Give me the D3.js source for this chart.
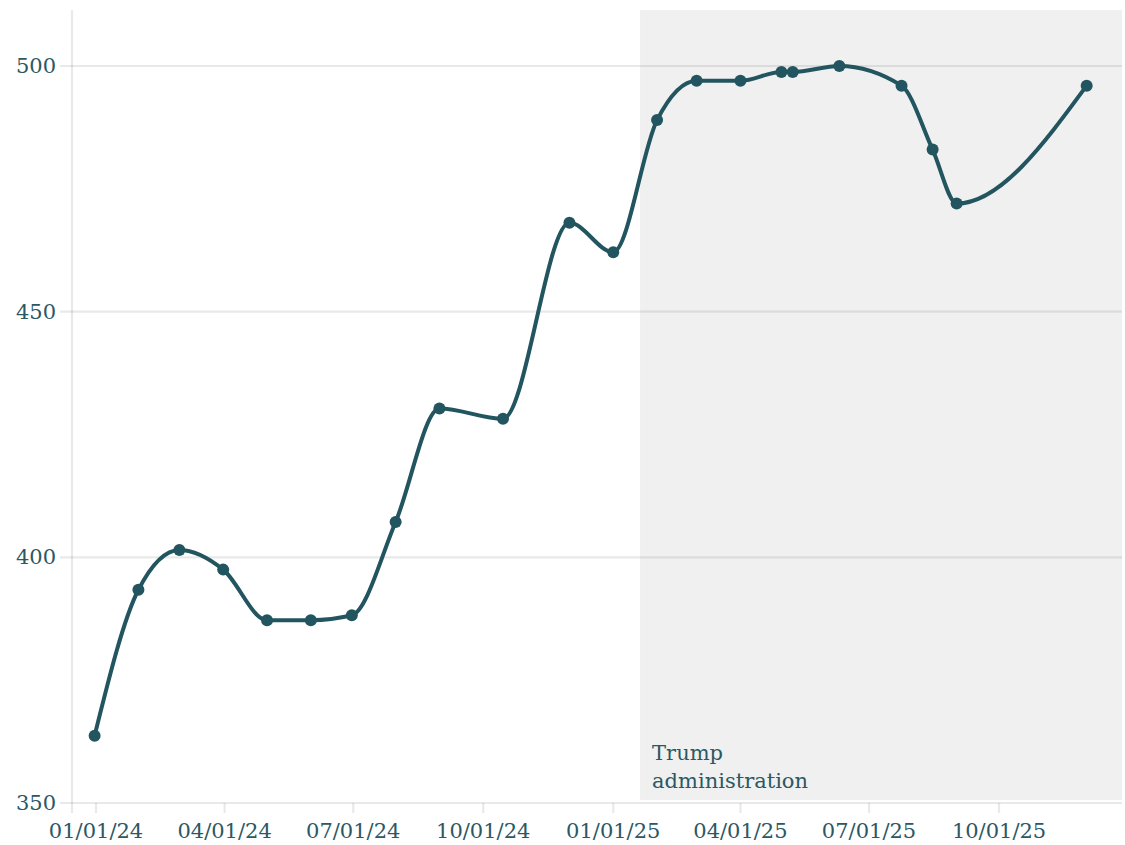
<!DOCTYPE html>
<html>
<head>
<meta charset="utf-8">
<title>Line chart</title>
<script src="https://d3js.org/d3.v7.min.js"></script>
<style>
    html, body { margin: 0; padding: 0; background: #fff; }
    svg { display: block; font-family: "DejaVu Serif", serif; }
    .tick-label { fill: #2b5864; font-size: 21px; }
</style>
</head>
<body>
<svg id="chart" width="1125" height="845"></svg>
<script>
    const dates = ['2023-12-31', '2024-01-31', '2024-02-29', '2024-03-31', '2024-05-01', '2024-06-01',
        '2024-06-30', '2024-07-31', '2024-08-31', '2024-10-15', '2024-12-01', '2025-01-01',
        '2025-02-01', '2025-03-01', '2025-04-01', '2025-04-30', '2025-05-08', '2025-06-10',
        '2025-07-24', '2025-08-15', '2025-09-01', '2025-12-02'];
    const values = [363.7, 393.4, 401.5, 397.5, 387.2, 387.2, 388.2, 407.2, 430.3, 428.2, 468.1, 462.1,
        489, 497, 497, 498.8, 498.8, 500, 496, 483, 472, 496];
    const xTicks = ['2024-01-01', '2024-04-01', '2024-07-01', '2024-10-01',
        '2025-01-01', '2025-04-01', '2025-07-01', '2025-10-01'];
    const yTicks = [350, 400, 450, 500];
    const shadeStart = '2025-01-20';
    const shadeLabel = ['Trump', 'administration'];

    const parse = d3.timeParse('%Y-%m-%d');
    const fmt = d3.timeFormat('%m/%d/%y');
    const data = dates.map((d, i) => ({ date: parse(d), value: values[i] }));

    const mLeft = 72, mRight = 1122, mTop = 10, mBottom = 803;
    const ink = '#22555f';
    const gridColor = 'rgba(0,0,0,0.085)';

    const x = d3.scaleTime()
        .domain([parse('2023-12-15'), parse('2025-12-27')])
        .range([mLeft, mRight]);
    const y = d3.scaleLinear()
        .domain([350, 511.4])
        .range([mBottom, mTop]);

    const svg = d3.select('#chart');

    // shaded administration period
    svg.append('rect')
        .attr('x', x(parse(shadeStart)))
        .attr('y', mTop)
        .attr('width', mRight - x(parse(shadeStart)))
        .attr('height', y(350) - mTop - 3)
        .attr('fill', '#f0f0f0');

    // horizontal grid
    svg.append('g')
        .selectAll('line')
        .data(yTicks)
        .join('line')
        .attr('x1', mLeft - 12)
        .attr('x2', mRight)
        .attr('y1', d => y(d))
        .attr('y2', d => y(d))
        .attr('stroke', gridColor)
        .attr('stroke-width', 2.2);

    // y axis line
    svg.append('line')
        .attr('x1', mLeft).attr('x2', mLeft)
        .attr('y1', mTop).attr('y2', mBottom + 10)
        .attr('stroke', gridColor)
        .attr('stroke-width', 2.2);

    // x ticks
    const xt = xTicks.map(parse);
    svg.append('g')
        .selectAll('line')
        .data(xt)
        .join('line')
        .attr('x1', d => x(d)).attr('x2', d => x(d))
        .attr('y1', mBottom).attr('y2', mBottom + 10)
        .attr('stroke', gridColor)
        .attr('stroke-width', 2.2);

    svg.append('g')
        .selectAll('text')
        .data(xt)
        .join('text')
        .attr('class', 'tick-label')
        .attr('x', d => x(d))
        .attr('y', 838)
        .attr('text-anchor', 'middle')
        .text(d => fmt(d));

    svg.append('g')
        .selectAll('text')
        .data(yTicks)
        .join('text')
        .attr('class', 'tick-label')
        .attr('x', 56)
        .attr('y', d => y(d) + 7)
        .attr('text-anchor', 'end')
        .text(d => d);

    // annotation
    svg.append('text')
        .attr('fill', '#2b5864')
        .attr('font-size', 21)
        .selectAll('tspan')
        .data(shadeLabel)
        .join('tspan')
        .attr('x', x(parse(shadeStart)) + 12)
        .attr('y', (d, i) => 760 + i * 28)
        .text(d => d);

    // line + points
    const line = d3.line()
        .x(d => x(d.date))
        .y(d => y(d.value))
        .curve(d3.curveMonotoneX);

    svg.append('path')
        .datum(data)
        .attr('d', line)
        .attr('fill', 'none')
        .attr('stroke', ink)
        .attr('stroke-width', 4);

    svg.append('g')
        .selectAll('circle')
        .data(data)
        .join('circle')
        .attr('cx', d => x(d.date))
        .attr('cy', d => y(d.value))
        .attr('r', 6)
        .attr('fill', ink);
</script>
</body>
</html>
